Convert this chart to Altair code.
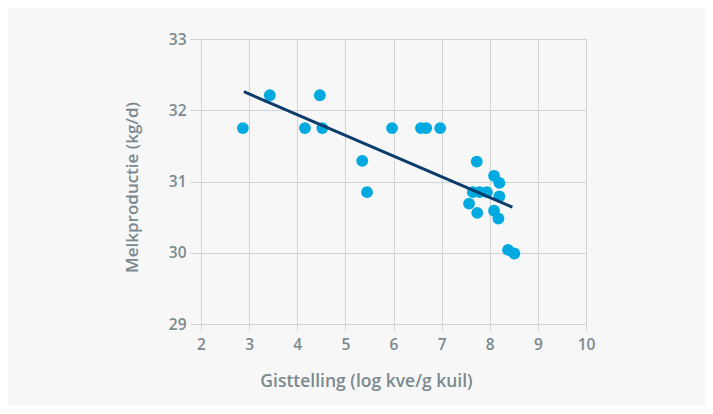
import altair as alt
import pandas as pd

gist = [2.87, 3.43, 4.16, 4.47, 4.52, 5.35, 5.45, 5.97, 6.57, 6.68, 6.97,
        7.73, 8.09, 8.20, 7.65, 7.79, 7.94, 8.20, 7.57, 7.74, 8.09, 8.18, 8.38, 8.51]
melk = [31.75, 32.21, 31.75, 32.21, 31.75, 31.29, 30.85, 31.75, 31.75, 31.75, 31.75,
        31.28, 31.08, 30.98, 30.85, 30.85, 30.85, 30.79, 30.69, 30.56, 30.59, 30.48, 30.04, 29.99]
trend_x = [2.89, 8.47]
trend_y = [32.26, 30.64]

pts = pd.DataFrame({"x": gist, "y": melk})
line = pd.DataFrame({"x": trend_x, "y": trend_y})

TXT = "#7b898e"
GRID = "#cfd3d6"
FONT = "Open Sans"

xscale = alt.Scale(domain=[2, 10], nice=False, zero=False)
yscale = alt.Scale(domain=[29, 33], nice=False, zero=False)

xaxis = alt.Axis(
    title="Gisttelling (log kve/g kuil)", values=list(range(2, 11)), format="d",
    grid=True, gridColor=GRID, domainColor=GRID, tickColor=GRID, tickSize=6,
    labelFont=FONT, labelFontSize=15.5, labelFontWeight=600, labelColor=TXT, labelPadding=7,
    labelFlush=False,
    titleFont=FONT, titleFontSize=17.5, titleFontWeight=600, titleColor=TXT,
    titleX=165, titleY=48, titleAnchor="middle", titleAlign="center", titleBaseline="top",
)
yaxis = alt.Axis(
    title="Melkproductie (kg/d)", values=[29, 29.5, 30, 30.5, 31, 31.5, 32, 32.5, 33],
    labelExpr="datum.value % 1 == 0 ? format(datum.value, 'd') : ''",
    grid=True, gridColor=GRID, domainColor=GRID, tickColor=GRID, tickSize=11,
    labelFont=FONT, labelFontSize=15.5, labelFontWeight=600, labelColor=TXT, labelPadding=4,
    labelFlush=False,
    titleFont=FONT, titleFontSize=17, titleFontWeight=600, titleColor=TXT,
    titleX=-69, titleY=148, titleAlign="center", titleBaseline="middle", titleAngle=270,
)

points = alt.Chart(pts).mark_circle(size=140, opacity=1, color="#00a9e0").encode(
    x=alt.X("x:Q", scale=xscale, axis=xaxis),
    y=alt.Y("y:Q", scale=yscale, axis=yaxis),
)
trend = alt.Chart(line).mark_line(color="#0b3c6b", strokeWidth=3).encode(
    x=alt.X("x:Q", scale=xscale),
    y=alt.Y("y:Q", scale=yscale),
)

chart = alt.layer(points, trend).properties(
    width=385, height=285,
    autosize=alt.AutoSizeParams(type="none"),
    padding={"left": 193, "top": 31, "right": 119, "bottom": 82},
    background="#f7f7f7",
).configure_view(stroke=None, fill="#f7f7f7")

chart.save("out.html", embed_options={"renderer": "svg", "actions": False})
